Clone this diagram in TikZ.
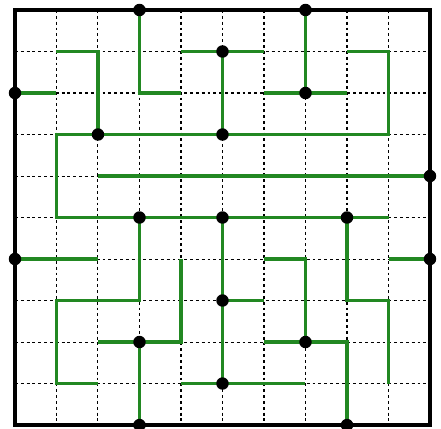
\documentclass[tikz,border=0pt]{standalone}
\begin{document}
\begin{tikzpicture}[
  gridline/.style={black, line width=0.7pt, dash pattern=on 2pt off 2pt},
  route/.style={draw=routegreen, line width=2.4pt},
  frame/.style={draw=black, line width=2.4pt},
  dot/.style={circle, fill=black, inner sep=0pt, minimum size=0.3cm}
]
\definecolor{routegreen}{RGB}{34,136,34}
\useasboundingbox (-0.361,-0.072) rectangle (10.265,10.241);
\foreach \i in {0,...,10} {
  \foreach \j in {0,...,10} {
    \coordinate (p\i-\j) at (\i,10-\j);
  }
}
% dashed grid
\foreach \i in {1,...,9} {
  \draw[gridline] (p\i-0) -- (p\i-10);
  \draw[gridline] (p0-\i) -- (p10-\i);
}
% green routes
\draw[route] (p1-1) -- (p2-1) -- (p2-3);
\draw[route] (p0-2) -- (p1-2);
\draw[route] (p3-0) -- (p3-2) -- (p4-2);
\draw[route] (p4-1) -- (p6-1);
\draw[route] (p5-1) -- (p5-3);
\draw[route] (p7-0) -- (p7-2);
\draw[route] (p6-2) -- (p8-2);
\draw[route] (p8-1) -- (p9-1) -- (p9-3) -- (p1-3) -- (p1-5) -- (p9-5);
\draw[route] (p2-4) -- (p10-4);
\draw[route] (p0-6) -- (p2-6);
\draw[route] (p3-5) -- (p3-7) -- (p1-7) -- (p1-9) -- (p2-9);
\draw[route] (p4-6) -- (p4-8) -- (p2-8);
\draw[route] (p3-8) -- (p3-10);
\draw[route] (p5-5) -- (p5-9);
\draw[route] (p4-9) -- (p7-9);
\draw[route] (p6-6) -- (p7-6) -- (p7-8);
\draw[route] (p9-6) -- (p10-6);
\draw[route] (p5-7) -- (p6-7);
\draw[route] (p8-5) -- (p8-7) -- (p9-7) -- (p9-9);
\draw[route] (p6-8) -- (p8-8) -- (p8-10);
% frame
\draw[frame] (p0-0) rectangle (p10-10);
% dots
\node[dot] (d1) at (p3-0) {};
\node[dot] (d2) at (p7-0) {};
\node[dot] (d3) at (p5-1) {};
\node[dot] (d4) at (p0-2) {};
\node[dot] (d5) at (p7-2) {};
\node[dot] (d6) at (p2-3) {};
\node[dot] (d7) at (p5-3) {};
\node[dot] (d8) at (p10-4) {};
\node[dot] (d9) at (p3-5) {};
\node[dot] (d10) at (p5-5) {};
\node[dot] (d11) at (p8-5) {};
\node[dot] (d12) at (p0-6) {};
\node[dot] (d13) at (p10-6) {};
\node[dot] (d14) at (p5-7) {};
\node[dot] (d15) at (p3-8) {};
\node[dot] (d16) at (p7-8) {};
\node[dot] (d17) at (p5-9) {};
\node[dot] (d18) at (p3-10) {};
\node[dot] (d19) at (p8-10) {};
\end{tikzpicture}
\end{document}
